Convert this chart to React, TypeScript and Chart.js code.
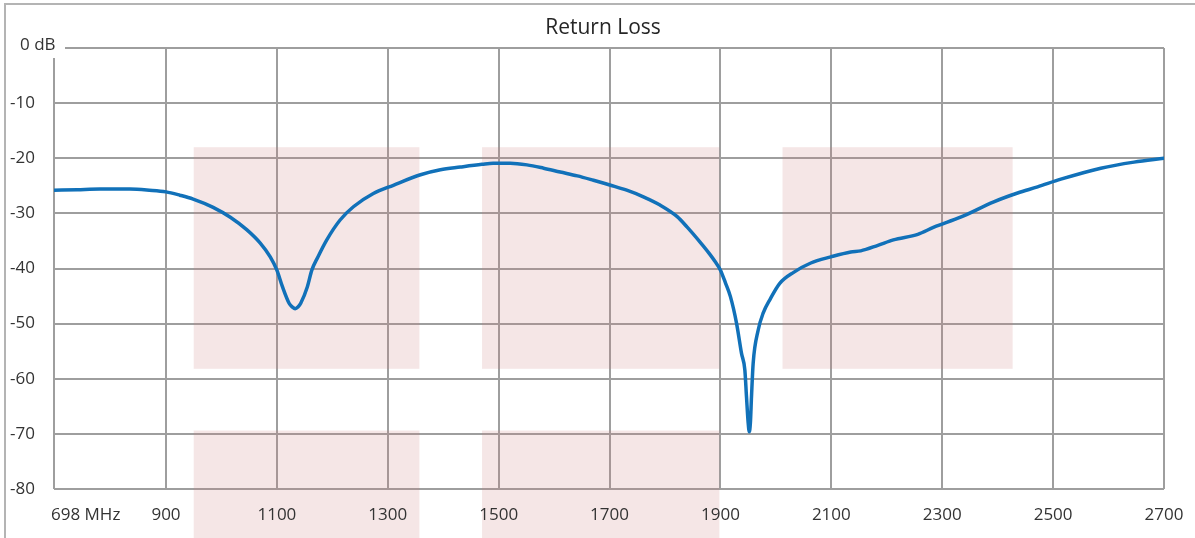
import React, { useEffect, useRef } from "react";
import { Chart, registerables } from "chart.js";

Chart.register(...registerables);

// Frequency (MHz) and return loss (dB)
const freqMHz = [
  698, 740, 781, 835, 870, 900, 925, 949, 985, 1016, 1046, 1070, 1088, 1100, 1110,
  1122, 1128, 1133, 1138, 1143, 1155, 1163, 1174, 1190, 1214, 1238, 1274, 1310,
  1359, 1395, 1431, 1470, 1490, 1521, 1551, 1581, 1611, 1642, 1671, 1702, 1731,
  1761, 1791, 1822, 1840, 1864, 1880, 1890, 1900, 1909, 1918, 1929, 1938, 1944,
  1947, 1950, 1952, 1954, 1956, 1959, 1968, 1977, 1990, 2007, 2032, 2063, 2099,
  2135, 2153, 2184, 2212, 2256, 2285, 2333, 2393, 2436, 2472, 2514, 2586, 2646, 2700,
];
const returnLossDb = [
  -25.8, -25.7, -25.6, -25.6, -25.8, -26.1, -26.7, -27.4, -28.9, -30.7, -33.0, -35.4,
  -37.9, -40.3, -43.3, -46.3, -47.0, -47.3, -47.0, -46.3, -43.3, -40.3, -37.9, -34.8,
  -31.2, -28.8, -26.4, -24.9, -23.0, -22.1, -21.6, -21.1, -20.9, -20.9, -21.2, -21.8,
  -22.5, -23.2, -24.0, -24.9, -25.8, -27.0, -28.5, -30.6, -32.5, -35.3, -37.3, -38.7,
  -40.3, -42.6, -45.1, -49.9, -55.4, -58.4, -63.3, -68.0, -69.6, -68.0, -63.3, -57.2,
  -51.2, -48.1, -45.5, -42.7, -40.7, -39.0, -37.9, -37.0, -36.8, -35.8, -34.8, -33.8,
  -32.5, -30.7, -27.9, -26.3, -25.2, -23.8, -21.8, -20.7, -20.0,
];

const xTickValues = [698, 900, 1100, 1300, 1500, 1700, 1900, 2100, 2300, 2500, 2700];
const xTickLabels = ["698 MHz", "900", "1100", "1300", "1500", "1700", "1900", "2100", "2300", "2500", "2700"];
const yTickValues = [0, -10, -20, -30, -40, -50, -60, -70, -80];
const yTickLabels = ["0 dB", "-10", "-20", "-30", "-40", "-50", "-60", "-70", "-80"];

// Shaded spec bands (MHz) and their dB limits
const upperBandStart = [950, 1470, 2012];
const upperBandEnd = [1357, 1898, 2427];
const upperBandTopDb = -18;
const upperBandBottomDb = -58.2;
const lowerBandStart = [950, 1470];
const lowerBandEnd = [1357, 1898];
const lowerBandTopDb = -69.4;

const chartTitle = "Return Loss";

const FONT = '"Open Sans", "Liberation Sans", sans-serif';

const overlayPlugin = {
  id: "overlay",
  beforeDatasetsDraw(chart: any) {
    const { ctx } = chart;
    const x = chart.scales.x;
    const y = chart.scales.y;
    ctx.save();
    ctx.fillStyle = "rgba(200,120,120,0.19)";
    for (let i = 0; i < upperBandStart.length; i++) {
      const x1 = x.getPixelForValue(upperBandStart[i]);
      const x2 = x.getPixelForValue(upperBandEnd[i]);
      const y1 = y.getPixelForValue(upperBandTopDb);
      const y2 = y.getPixelForValue(upperBandBottomDb);
      ctx.fillRect(x1, y1, x2 - x1, y2 - y1);
    }
    for (let i = 0; i < lowerBandStart.length; i++) {
      const x1 = x.getPixelForValue(lowerBandStart[i]);
      const x2 = x.getPixelForValue(lowerBandEnd[i]);
      const y1 = y.getPixelForValue(lowerBandTopDb);
      ctx.fillRect(x1, y1, x2 - x1, chart.height - y1);
    }
    ctx.restore();
  },
  afterDraw(chart: any) {
    const { ctx } = chart;
    const x = chart.scales.x;
    const y = chart.scales.y;
    ctx.save();
    // outer frame (left & top)
    ctx.strokeStyle = "#b4b4b4";
    ctx.lineWidth = 2;
    ctx.beginPath();
    ctx.moveTo(5, chart.height);
    ctx.lineTo(5, 4);
    ctx.lineTo(chart.width, 4);
    ctx.stroke();

    // white box behind the "0 dB" label corner
    ctx.fillStyle = "#ffffff";
    ctx.fillRect(44, 38, 21, 20);

    ctx.fillStyle = "#333333";
    ctx.font = `17px ${FONT}`;
    ctx.textBaseline = "middle";
    // y labels
    yTickValues.forEach((v, i) => {
      const py = y.getPixelForValue(v);
      ctx.textAlign = "left";
      if (i === 0) {
        ctx.fillText(yTickLabels[i], 20, py - 3);
      } else {
        ctx.fillText(yTickLabels[i], 10, py);
      }
    });
    // x labels
    const ly = 515;
    xTickValues.forEach((v, i) => {
      const px = x.getPixelForValue(v);
      if (i === 0) {
        ctx.textAlign = "left";
        ctx.fillText(xTickLabels[i], px - 3, ly);
      } else {
        ctx.textAlign = "center";
        ctx.fillText(xTickLabels[i], px, ly);
      }
    });
    // title
    ctx.fillStyle = "#262626";
    ctx.font = `21px ${FONT}`;
    ctx.textAlign = "center";
    ctx.fillText(chartTitle, 603, 28);
    ctx.restore();
  },
};

export default function App() {
  const canvasRef = useRef<HTMLCanvasElement | null>(null);

  useEffect(() => {
    const canvas = canvasRef.current;
    if (!canvas) return;
    const points = freqMHz.map((f, i) => ({ x: f, y: returnLossDb[i] }));
    const gridColor = "#9e9e9e";
    const chart = new Chart(canvas, {
      type: "line",
      data: {
        datasets: [
          {
            data: points,
            borderColor: "#1171b9",
            borderWidth: 3.5,
            pointRadius: 0,
            fill: false,
            cubicInterpolationMode: "monotone",
            borderJoinStyle: "round",
            borderCapStyle: "round",
          },
        ],
      },
      options: {
        animation: false,
        responsive: false,
        devicePixelRatio: 1,
        layout: { padding: { left: 54, top: 48, right: 31, bottom: 49 } },
        plugins: { legend: { display: false }, title: { display: false }, tooltip: { enabled: false } },
        scales: {
          x: {
            type: "linear",
            min: 698,
            max: 2700,
            afterBuildTicks: (scale: any) => {
              scale.ticks = xTickValues.map((v) => ({ value: v }));
            },
            ticks: { display: false },
            grid: { color: gridColor, lineWidth: 2, drawTicks: false },
            border: { display: false },
          },
          y: {
            type: "linear",
            min: -80,
            max: 0,
            afterBuildTicks: (scale: any) => {
              scale.ticks = yTickValues.map((v) => ({ value: v }));
            },
            ticks: { display: false },
            grid: { color: gridColor, lineWidth: 2, drawTicks: false },
            border: { display: false },
          },
        },
      },
      plugins: [overlayPlugin],
    } as any);
    return () => chart.destroy();
  }, []);

  return (
    <div style={{ position: "absolute", left: 0, top: 0, width: 1195, height: 538, background: "#fff" }}>
      <canvas ref={canvasRef} width={1195} height={538} style={{ width: 1195, height: 538, display: "block" }} />
    </div>
  );
}
